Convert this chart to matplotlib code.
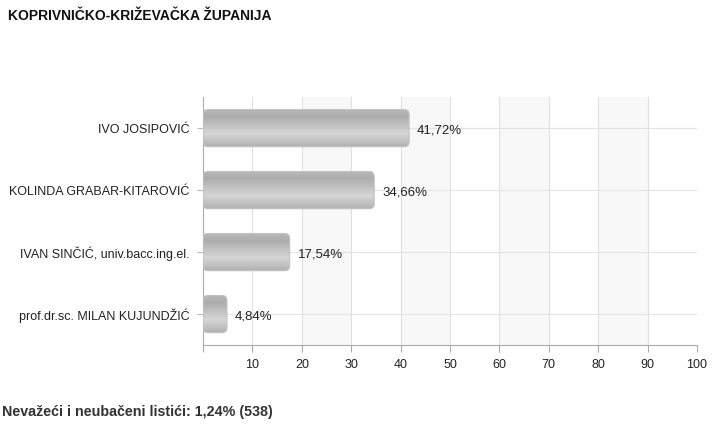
import numpy as np
import matplotlib
matplotlib.use("Agg")
import matplotlib.pyplot as plt
from matplotlib.patches import FancyBboxPatch
from matplotlib.colors import LinearSegmentedColormap

plt.rcParams['font.family'] = ['Liberation Sans', 'DejaVu Sans']

title = "KOPRIVNIČKO-KRIŽEVAČKA ŽUPANIJA"
footer = "Nevažeći i neubačeni listići: 1,24% (538)"
candidates = ["IVO JOSIPOVIĆ", "KOLINDA GRABAR-KITAROVIĆ",
              "IVAN SINČIĆ, univ.bacc.ing.el.", "prof.dr.sc. MILAN KUJUNDŽIĆ"]
percents = [41.72, 34.66, 17.54, 4.84]
xticks = [10, 20, 30, 40, 50, 60, 70, 80, 90, 100]

fig = plt.figure(figsize=(7.2, 4.26), dpi=100)
ax = fig.add_axes([0.282, 0.190, 0.686, 0.582])

y = np.arange(len(candidates))
ax.set_xlim(0, 100)
ax.set_ylim(len(candidates) - 0.5, -0.5)

# alternating bands
for x0 in range(20, 100, 20):
    ax.axvspan(x0, x0 + 10, color="#f8f8f8", zorder=0, lw=0)
for xv in range(10, 100, 10):
    ax.axvline(xv, color="#e0e0e0", lw=0.8, zorder=1)
for yv in y:
    ax.axhline(yv, color="#e4e4e4", lw=0.8, zorder=1)

bars = ax.barh(y, percents, height=0.6, color="none", edgecolor="none", zorder=2)

grad = LinearSegmentedColormap.from_list(
    "bar", [(0, "#b8b8b8"), (0.2, "#adadad"), (0.65, "#d6d6d6"), (1, "#b0b0b0")])
gimg = np.linspace(0, 1, 100).reshape(-1, 1)

# pixel scale for rounding
xpp = 100 / (0.686 * 720)
ypp = len(candidates) / (0.582 * 426)
for b, v in zip(bars, percents):
    x0, y0 = b.get_x(), b.get_y()
    w, h = b.get_width(), b.get_height()
    box = FancyBboxPatch((x0, y0), w, h,
                         boxstyle="round,pad=0,rounding_size=%f" % (5 * xpp),
                         mutation_aspect=ypp / xpp,
                         fc="none", ec="#c2c2c2", lw=0.8, zorder=4)
    ax.add_patch(box)
    im = ax.imshow(gimg, cmap=grad, aspect="auto", extent=(x0, x0 + w, y0 + h, y0),
                   zorder=3, interpolation="bilinear")
    im.set_clip_path(box)
    ax.text(v + 1.6, b.get_y() + h / 2 + 0.04, ("%.2f%%" % v).replace(".", ","),
            va="center", ha="left", fontsize=9.5, color="#222222", zorder=5)

ax.set_xlim(0, 100)
ax.set_ylim(len(candidates) - 0.5, -0.5)
ax.set_yticks(y)
ax.set_yticklabels(candidates, fontsize=9, color="#222222")
ax.set_xticks([0] + xticks)
ax.set_xticklabels([""] + [str(t) for t in xticks], fontsize=9, color="#222222")
ax.tick_params(axis="y", length=4, color="#bbbbbb", pad=6)
ax.tick_params(axis="x", length=5, color="#aaaaaa", pad=5)
for s in ["top", "right"]:
    ax.spines[s].set_visible(False)
ax.spines["left"].set_color("#aaaaaa")
ax.spines["bottom"].set_color("#aaaaaa")

fig.text(0.011, 0.962, title, fontsize=10, fontweight="bold", va="center", ha="left",
         color="#111111")
fig.text(0.003, 0.033, footer, fontsize=10.3, fontweight="bold", va="center", ha="left",
         color="#333333")

fig.savefig("out.png", dpi=100)
